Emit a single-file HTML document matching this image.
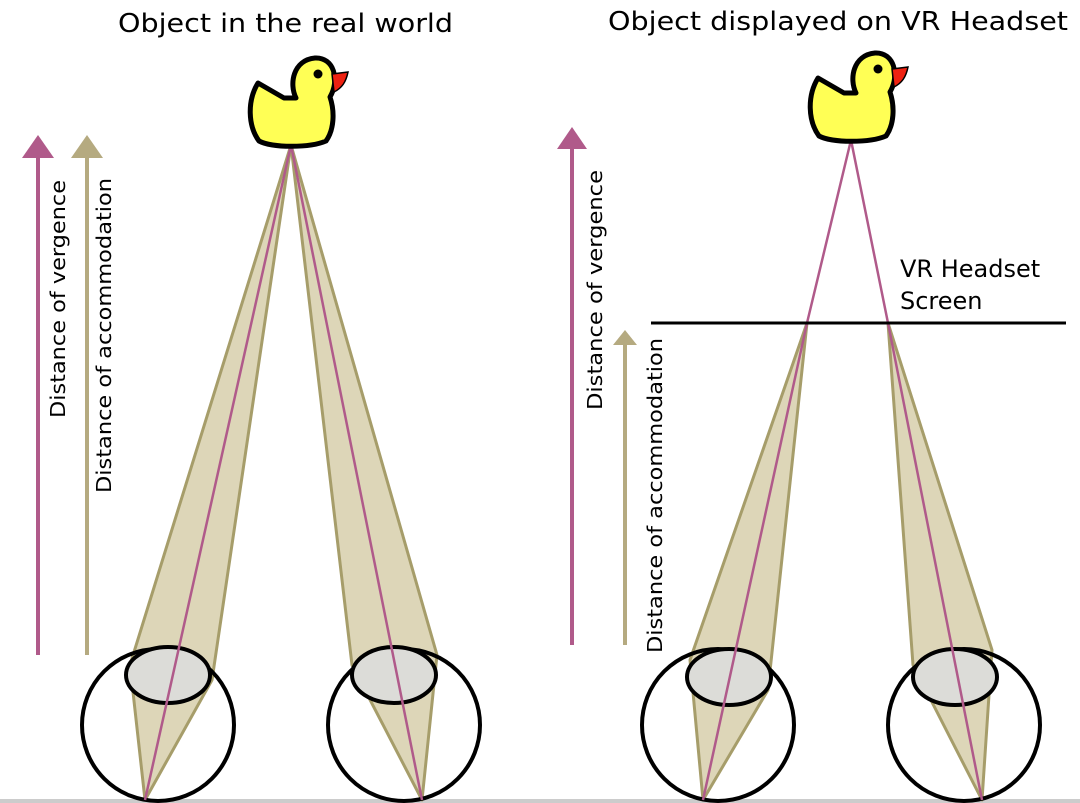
<!DOCTYPE html>
<html><head><meta charset="utf-8"><style>html,body{margin:0;padding:0;background:#fff}svg{display:block}text{font-family:"DejaVu Sans","Liberation Sans",sans-serif;fill:#000}</style></head>
<body>
<svg width="1080" height="803" viewBox="0 0 1080 803" xmlns="http://www.w3.org/2000/svg">
<defs>
<g id="duck">
<path d="M258,83 L284,98 L296,98 C289,84 293,60 315,58 C334,57 340,80 330,97 C335,112 334,130 326,141 C310,148 272,148 259,141 C248,126 247,101 258,83 Z" fill="#ffff55" stroke="#000" stroke-width="5" stroke-linejoin="round"/>
<circle cx="318" cy="74" r="4.5" fill="#000"/>
<path d="M332,74 L348,72 C346,82 342,88 334,92 Z" fill="#ee2211" stroke="#000" stroke-width="1.5"/>
</g>
</defs>
<rect x="0" y="799" width="1080" height="4" fill="#cccccc"/>
<text x="118" y="32" font-size="26" textLength="335" lengthAdjust="spacingAndGlyphs">Object in the real world</text>
<text x="608" y="30" font-size="26" textLength="460" lengthAdjust="spacingAndGlyphs">Object displayed on VR Headset</text>

<!-- left panel -->
<g fill="#ddd6b8" stroke="#a69d6a" stroke-width="3" stroke-linejoin="round">
<polygon points="291,145 130,665 145,800 212,680"/>
<polygon points="291,145 352,665 422,800 437,655"/>
</g>
<g stroke="#000" stroke-width="4" fill="none">
<circle cx="158" cy="725" r="76"/>
<circle cx="404" cy="725" r="76"/>
</g>
<g fill="#dcdcd8" stroke="#000" stroke-width="4">
<ellipse cx="168" cy="675" rx="42" ry="28"/>
<ellipse cx="394" cy="675" rx="42" ry="28"/>
</g>
<g stroke="#b05a8a" stroke-width="2.5">
<line x1="291" y1="145" x2="145" y2="800"/>
<line x1="291" y1="145" x2="422" y2="800"/>
</g>
<use href="#duck"/>
<line x1="38" y1="655" x2="38" y2="155" stroke="#b05a8a" stroke-width="4"/>
<polygon points="38,135 22,158 54,158" fill="#b05a8a"/>
<line x1="87" y1="655" x2="87" y2="155" stroke="#b5aa80" stroke-width="4"/>
<polygon points="87,135 71,158 103,158" fill="#b5aa80"/>
<text transform="translate(65,418) rotate(-90)" font-size="20" textLength="238" lengthAdjust="spacingAndGlyphs">Distance of vergence</text>
<text transform="translate(111,493) rotate(-90)" font-size="20" textLength="315" lengthAdjust="spacingAndGlyphs">Distance of accommodation</text>

<!-- right panel -->
<g fill="#ddd6b8" stroke="#a69d6a" stroke-width="3" stroke-linejoin="round">
<polygon points="807,323 690,660 703,800 768,690"/>
<polygon points="888,323 913,665 982,800 992,650"/>
</g>
<g stroke="#000" stroke-width="4" fill="none">
<circle cx="718" cy="725" r="76"/>
<circle cx="964" cy="725" r="76"/>
</g>
<g fill="#dcdcd8" stroke="#000" stroke-width="4">
<ellipse cx="729" cy="677" rx="42" ry="28"/>
<ellipse cx="955" cy="677" rx="42" ry="28"/>
</g>
<g stroke="#b05a8a" stroke-width="2.5" fill="none">
<polyline points="851,140 807,323 703,800"/>
<polyline points="851,140 888,323 982,800"/>
</g>
<use href="#duck" transform="translate(560,-5)"/>
<line x1="651" y1="323" x2="1066" y2="323" stroke="#000" stroke-width="3"/>
<text x="900" y="277" font-size="24">VR Headset</text>
<text x="900" y="309" font-size="24">Screen</text>
<line x1="572" y1="645" x2="572" y2="147" stroke="#b05a8a" stroke-width="4"/>
<polygon points="572,127 557,149 587,149" fill="#b05a8a"/>
<line x1="625" y1="645" x2="625" y2="345" stroke="#b5aa80" stroke-width="4"/>
<polygon points="625,330 613,345 637,345" fill="#b5aa80"/>
<text transform="translate(602,410) rotate(-90)" font-size="20" textLength="240" lengthAdjust="spacingAndGlyphs">Distance of vergence</text>
<text transform="translate(662,653) rotate(-90)" font-size="20" textLength="315" lengthAdjust="spacingAndGlyphs">Distance of accommodation</text>
</svg>
</body></html>
